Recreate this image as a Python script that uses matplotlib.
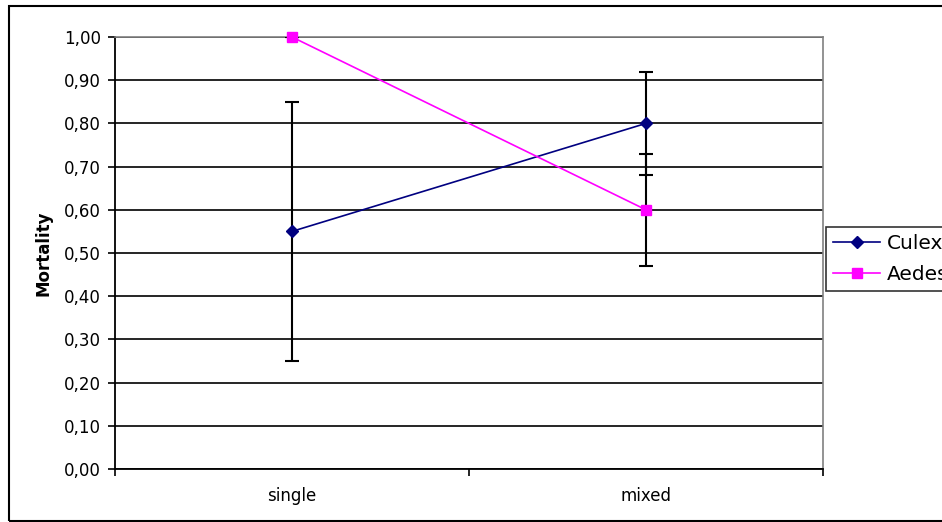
import matplotlib
matplotlib.use("Agg")
import matplotlib.pyplot as plt
from matplotlib.patches import Rectangle
from matplotlib.ticker import FuncFormatter

# data
groups = ["single", "mixed"]
culex = [0.55, 0.80]
culex_err = [0.30, 0.12]
aedes = [1.00, 0.60]
aedes_err = [0.0, 0.13]

# DejaVu is a bit wider than Arial, which suits the stretched look of the original
plt.rcParams['font.family'] = ['DejaVu Sans']

fig = plt.figure(figsize=(9.42, 5.22), dpi=100)
ax = fig.add_axes([115/942, 1 - 469/522, (823 - 115)/942, (469 - 37)/522])

x = list(range(len(groups)))

# error bars first, markers on top
ax.errorbar(x, culex, yerr=culex_err, fmt='none', ecolor='black',
            elinewidth=1.5, capsize=5, capthick=1.5, zorder=3)
ax.errorbar(x, aedes, yerr=aedes_err, fmt='none', ecolor='black',
            elinewidth=1.5, capsize=5, capthick=1.5, zorder=3)

ax.plot(x, culex, color='#000080', marker='D', markersize=6, linewidth=1.2,
        label='Culex', zorder=4, clip_on=False)
ax.plot(x, aedes, color='#FF00FF', marker='s', markersize=7, linewidth=1.2,
        label='Aedes', zorder=4, clip_on=False)

ax.set_xlim(-0.5, 1.5)
ax.set_ylim(0, 1.0)
ax.set_yticks([i / 10 for i in range(11)])
ax.yaxis.set_major_formatter(FuncFormatter(lambda v, p: f"{v:.2f}".replace('.', ',')))
ax.set_xticks(x)
ax.set_xticklabels(groups)
ax.set_xticks([-0.5, 0.5, 1.5], minor=True)
ax.tick_params(axis='x', which='major', length=0, pad=13, labelsize=12)
ax.tick_params(axis='x', which='minor', length=5, width=1.2, direction='out')
ax.tick_params(axis='y', length=5, width=1.2, direction='out', labelsize=12, pad=5)

ax.grid(axis='y', color='black', linewidth=1.2, zorder=1)
ax.set_axisbelow(True)

for side in ['left', 'bottom']:
    ax.spines[side].set_color('black')
    ax.spines[side].set_linewidth(1.3)
for side in ['right', 'top']:
    ax.spines[side].set_color('#808080')
    ax.spines[side].set_linewidth(1.2)

ax.set_ylabel("Mortality", fontsize=12, fontweight='bold', labelpad=8)

# legend, cut off at the right edge like the original
leg = fig.legend(loc='upper left', bbox_to_anchor=(826/942, 1 - 227/522),
                 frameon=True, fancybox=False, fontsize=14.5, handlelength=2.35,
                 borderaxespad=0, borderpad=0.35, handletextpad=0.3,
                 labelspacing=0.6)
leg.get_frame().set_edgecolor('black')
leg.get_frame().set_linewidth(1.2)

# outer chart border
fig.patches.append(Rectangle((9/942, 1 - 521/522), 1.2, (521 - 6)/522,
                             transform=fig.transFigure, fill=False,
                             edgecolor='black', linewidth=1.5))

fig.savefig("out.png", dpi=100)
